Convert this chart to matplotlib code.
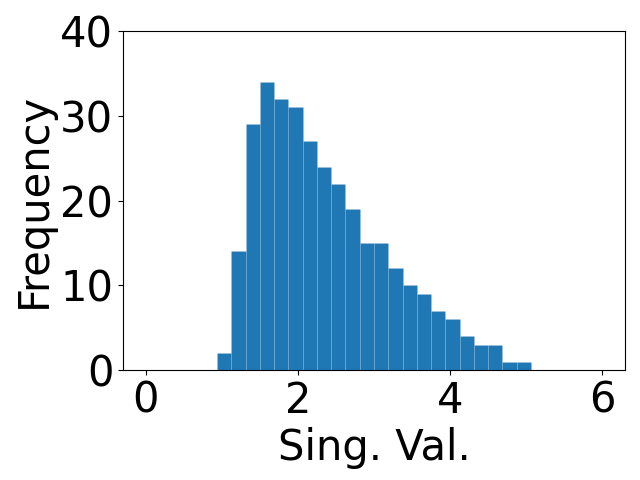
import numpy as np
import matplotlib
matplotlib.use("Agg")
import matplotlib.pyplot as plt

# Histogram: 32 bins spanning 0..6
bin_range = (0, 6)
n_bins = 32
counts = [0, 0, 0, 0, 0,
          2, 14, 29, 34, 32, 31, 27, 24, 22, 19, 15, 15, 12, 10, 9, 7, 6, 4, 3, 3, 1, 1,
          0, 0, 0, 0, 0]
x_label = "Sing. Val."
y_label = "Frequency"
x_ticks = [0, 2, 4, 6]
y_ticks = [0, 10, 20, 30, 40]

edges = np.linspace(bin_range[0], bin_range[1], n_bins + 1)
centers = (edges[:-1] + edges[1:]) / 2

fig = plt.figure(figsize=(6.4, 4.8), dpi=100)
ax = fig.add_axes([123 / 640, 1 - 370 / 480, (625 - 123) / 640, (370 - 31) / 480])
ax.hist(centers, bins=edges, weights=counts, color="#1f77b4",
        edgecolor=(1, 1, 1, 0.15), linewidth=0.4)
ax.set_ylim(0, 40)
ax.set_xticks(x_ticks)
ax.set_yticks(y_ticks)
ax.tick_params(labelsize=30)
ax.set_xlabel(x_label, fontsize=30)
ax.set_ylabel(y_label, fontsize=30)
fig.savefig("out.png", dpi=100)
